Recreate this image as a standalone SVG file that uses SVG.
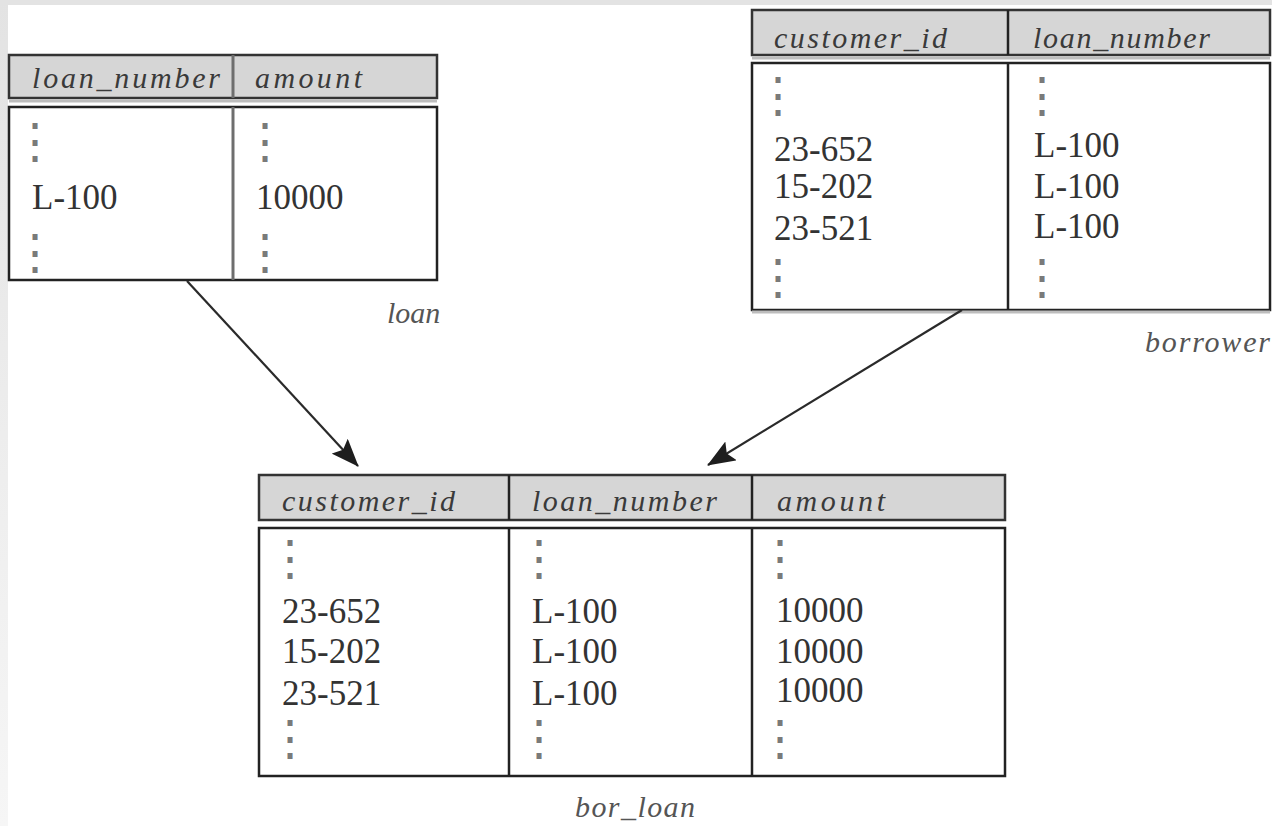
<svg xmlns="http://www.w3.org/2000/svg" width="1272" height="826" viewBox="0 0 1272 826">
<style>
.hdr{fill:#d6d6d6;stroke:#333;stroke-width:2.5}
.hsh{stroke:#bdbdbd;stroke-width:3}
.body{fill:#fff;stroke:#222;stroke-width:2.5}
.div{stroke:#222;stroke-width:2.5}
.divg{stroke:#6e6e6e;stroke-width:3}
.ht{font-family:"Liberation Serif",serif;font-style:italic;font-size:30px;fill:#3a3a3a}
.bt{font-family:"Liberation Serif",serif;font-size:35px;fill:#333}
.dt{font-family:"DejaVu Serif",serif;font-size:48px;fill:#7a7a7a}
.lb{font-family:"Liberation Serif",serif;font-style:italic;font-size:30px;fill:#555}
.conn{stroke:#2a2a2a;stroke-width:2.2;fill:none}
</style>
<defs>
<linearGradient id="lg" x1="0" y1="0" x2="0" y2="1">
<stop offset="0" stop-color="#e3e3e3"/>
<stop offset="1" stop-color="#f6f6f6"/>
</linearGradient>
<marker id="ah" viewBox="0 0 28 22" refX="27" refY="11" markerWidth="28" markerHeight="22" orient="auto" markerUnits="userSpaceOnUse">
<path d="M0,0 L28,11 L0,22 L5,11 z" fill="#1e1e1e"/>
</marker>
</defs>
<rect x="0" y="0" width="1272" height="826" fill="url(#lg)"/>
<rect x="0" y="0" width="1272" height="5" fill="#e3e3e3"/>
<rect x="8" y="5" width="1264" height="821" fill="#fff"/>

<g id="loan">
<rect class="hdr" x="9" y="55" width="428" height="43"/>
<line class="hsh" x1="9" y1="101" x2="437" y2="101"/>
<line class="divg" x1="233" y1="55" x2="233" y2="98"/>
<rect class="body" x="9" y="107" width="428" height="173"/>
<line class="divg" x1="233" y1="107" x2="233" y2="280"/>
<text class="ht" x="32" y="88" textLength="188" lengthAdjust="spacing">loan_number</text>
<text class="ht" x="255" y="88" textLength="107" lengthAdjust="spacing">amount</text>
<text class="dt" x="11" y="158">⋮</text>
<text class="dt" x="241" y="158">⋮</text>
<text class="bt" x="32" y="209">L-100</text>
<text class="bt" x="256" y="209">10000</text>
<text class="dt" x="11" y="269">⋮</text>
<text class="dt" x="241" y="269">⋮</text>
<text class="lb" x="387" y="323">loan</text>
</g>

<g id="borrower">
<rect class="hdr" x="752" y="10" width="518" height="45"/>
<line class="hsh" x1="752" y1="58" x2="1270" y2="58"/>
<line class="div" x1="1008" y1="10" x2="1008" y2="55"/>
<rect class="body" x="752" y="63" width="518" height="247"/>
<line class="div" x1="1008" y1="63" x2="1008" y2="310"/>
<line class="hsh" x1="752" y1="312" x2="1270" y2="312"/>
<text class="ht" x="774" y="48" textLength="173" lengthAdjust="spacing">customer_id</text>
<text class="ht" x="1033" y="48" textLength="177" lengthAdjust="spacing">loan_number</text>
<text class="dt" x="754" y="112">⋮</text>
<text class="dt" x="1018" y="112">⋮</text>
<text class="bt" x="774" y="161">23-652</text>
<text class="bt" x="1034" y="157">L-100</text>
<text class="bt" x="774" y="198">15-202</text>
<text class="bt" x="1034" y="198">L-100</text>
<text class="bt" x="774" y="240">23-521</text>
<text class="bt" x="1034" y="238">L-100</text>
<text class="dt" x="754" y="294">⋮</text>
<text class="dt" x="1018" y="294">⋮</text>
<text class="lb" x="1145" y="352" textLength="125" lengthAdjust="spacing">borrower</text>
</g>

<g id="bor_loan">
<rect class="hdr" x="259" y="475" width="746" height="45"/>
<line class="div" x1="509" y1="475" x2="509" y2="520"/>
<line class="div" x1="752" y1="475" x2="752" y2="520"/>
<rect class="body" x="259" y="528" width="746" height="248"/>
<line class="div" x1="509" y1="528" x2="509" y2="776"/>
<line class="div" x1="752" y1="528" x2="752" y2="776"/>
<text class="ht" x="282" y="511" textLength="173" lengthAdjust="spacing">customer_id</text>
<text class="ht" x="532" y="511" textLength="185" lengthAdjust="spacing">loan_number</text>
<text class="ht" x="777" y="511" textLength="108" lengthAdjust="spacing">amount</text>
<text class="dt" x="266" y="575">⋮</text>
<text class="dt" x="515" y="575">⋮</text>
<text class="dt" x="756" y="575">⋮</text>
<text class="bt" x="282" y="623">23-652</text>
<text class="bt" x="532" y="623">L-100</text>
<text class="bt" x="776" y="622">10000</text>
<text class="bt" x="282" y="663">15-202</text>
<text class="bt" x="532" y="663">L-100</text>
<text class="bt" x="776" y="663">10000</text>
<text class="bt" x="282" y="705">23-521</text>
<text class="bt" x="532" y="705">L-100</text>
<text class="bt" x="776" y="702">10000</text>
<text class="dt" x="266" y="755">⋮</text>
<text class="dt" x="515" y="755">⋮</text>
<text class="dt" x="756" y="755">⋮</text>
<text class="lb" x="575" y="817" textLength="120" lengthAdjust="spacing">bor_loan</text>
</g>

<g id="connectors">
<line class="conn" x1="187" y1="281" x2="358" y2="466" marker-end="url(#ah)"/>
<line class="conn" x1="962" y1="310" x2="708" y2="465" marker-end="url(#ah)"/>
</g>
</svg>
